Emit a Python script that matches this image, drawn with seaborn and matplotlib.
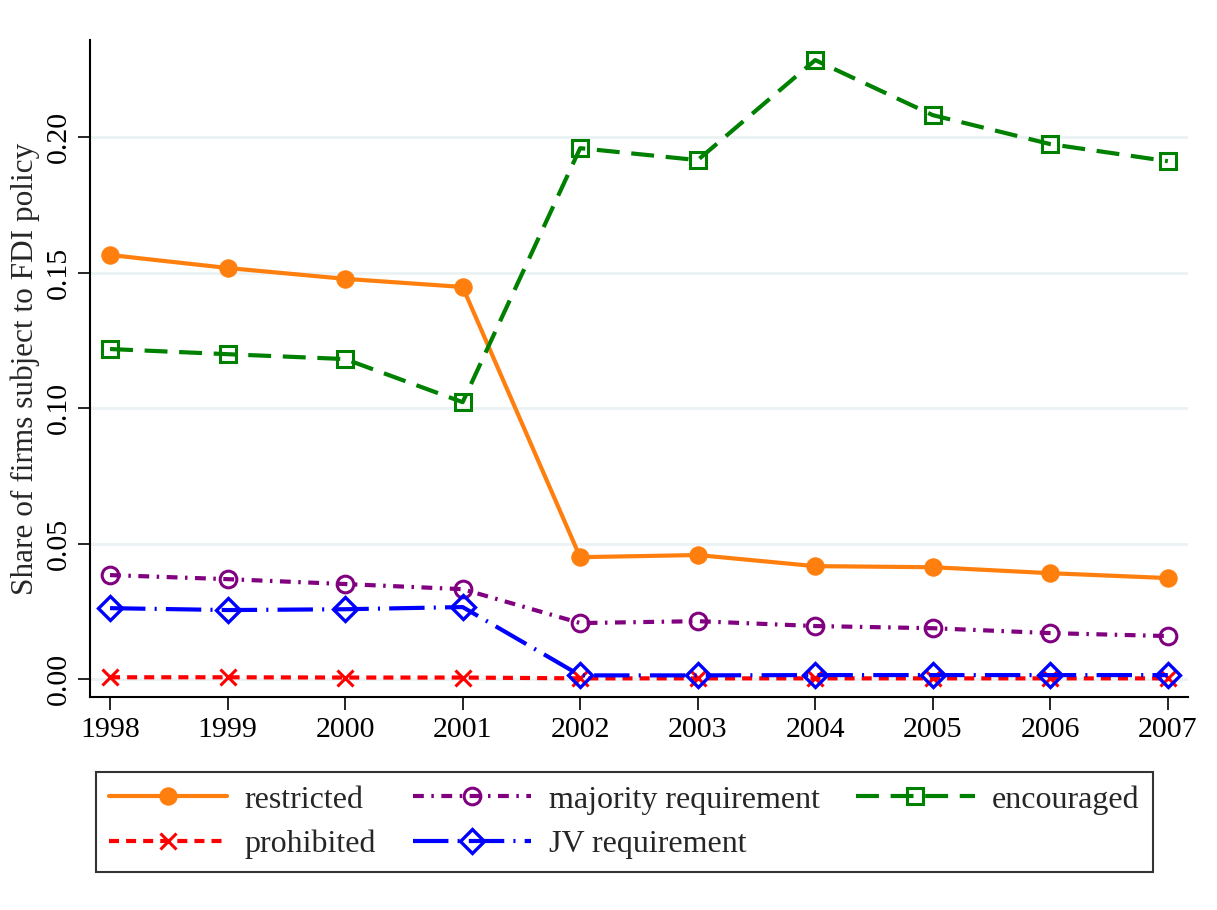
import matplotlib
matplotlib.use("Agg")
import matplotlib.pyplot as plt
import seaborn as sns
import pandas as pd

years = [1998, 1999, 2000, 2001, 2002, 2003, 2004, 2005, 2006, 2007]
restricted = [0.1565, 0.1517, 0.1477, 0.1447, 0.0450, 0.0458, 0.0417, 0.0413, 0.0391, 0.0373]
prohibited = [0.0007, 0.0007, 0.0006, 0.0006, 0.0003, 0.0003, 0.0003, 0.0003, 0.0003, 0.0003]
majority = [0.0384, 0.0369, 0.0351, 0.0332, 0.0207, 0.0214, 0.0196, 0.0188, 0.0170, 0.0159]
jv = [0.0262, 0.0255, 0.0258, 0.0266, 0.0014, 0.0014, 0.0015, 0.0015, 0.0015, 0.0015]
encouraged = [0.1218, 0.1199, 0.1181, 0.1022, 0.1959, 0.1915, 0.2284, 0.2081, 0.1974, 0.1911]

sns.set_theme(style="white")
plt.rcParams["font.family"] = ["Liberation Serif", "DejaVu Serif"]

fig = plt.figure(figsize=(12.17, 9.10), dpi=100)
ax = fig.add_axes([0.074, 0.234, 0.902, 0.722])

series = [
    ("restricted", restricted, "#ff7f0e", "-", "o", dict(markersize=12.5, markerfacecolor="#ff7f0e")),
    ("prohibited", prohibited, "#ff0000", (0, (2.4, 1.7)), "x", dict(markersize=12, markeredgewidth=2.2)),
    ("majority requirement", majority, "#800080", (0, (2.6, 1.8, 0.6, 1.8)), "o", dict(markersize=12, markerfacecolor="none", markeredgewidth=2.2)),
    ("JV requirement", jv, "#0000ff", (0, (8.5, 2.2, 0.5, 2.2)), "D", dict(markersize=12, markerfacecolor="none", markeredgewidth=2.4)),
    ("encouraged", encouraged, "#008000", (0, (5.5, 2.8)), "s", dict(markersize=11.5, markerfacecolor="none", markeredgewidth=2.2)),
]

for label, vals, color, ls, mk, mkw in series:
    df = pd.DataFrame({"year": years, "share": vals})
    sns.lineplot(data=df, x="year", y="share", ax=ax, color=color, linestyle=ls,
                 linewidth=3, marker=mk, markeredgecolor=color, label=label,
                 legend=False, **mkw)

ax.set_xlim(1997.83, 2007.17)
ax.set_ylim(-0.0066, 0.2358)
ax.set_xticks(years)
ax.set_xticklabels([str(y) for y in years])
ax.set_yticks([0.0, 0.05, 0.10, 0.15, 0.20])
ax.set_yticklabels(["0.00", "0.05", "0.10", "0.15", "0.20"], rotation=90, va="center")
ax.yaxis.grid(True, color="#eaf2f3", linewidth=2)
ax.xaxis.grid(False)
ax.set_xlabel("")
ax.set_ylabel("Share of firms subject to FDI policy", fontsize=22.5, labelpad=4)
ax.tick_params(axis="both", labelsize=21.5, direction="out", length=9, width=1.2,
               colors="black", left=True, bottom=True)
ax.tick_params(axis="x", pad=5)
ax.tick_params(axis="y", pad=4)
for side in ["top", "right"]:
    ax.spines[side].set_visible(False)
for side in ["left", "bottom"]:
    ax.spines[side].set_color("black")
    ax.spines[side].set_linewidth(1.5)

handles, labels = ax.get_legend_handles_labels()
hmap = dict(zip(labels, handles))
# column-major ordering for a 3-column legend
col_order = ["restricted", "prohibited", "majority requirement", "JV requirement", "encouraged"]
leg = fig.legend([hmap[l] for l in col_order], col_order, loc="center",
                 bbox_to_anchor=(0.513, 0.0965), ncol=3, fontsize=23, frameon=True,
                 fancybox=False, edgecolor="black", handlelength=3.7, handletextpad=0.55,
                 columnspacing=1.15, labelspacing=0.48, borderpad=0.4, borderaxespad=0)
leg.get_frame().set_linewidth(1.5)

fig.savefig("out.png", dpi=100, facecolor="white")
